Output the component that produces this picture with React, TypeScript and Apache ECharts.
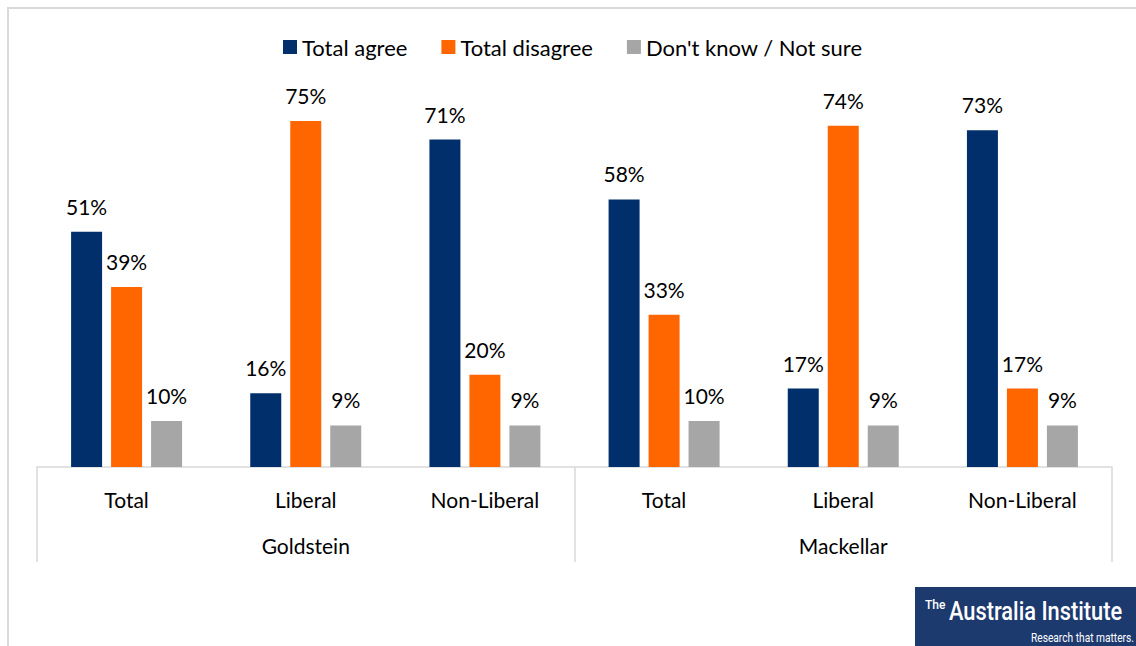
import React, { useEffect, useRef } from "react";
import * as echarts from "echarts";

const categories = ["Total", "Liberal", "Non-Liberal", "Total", "Liberal", "Non-Liberal"];
const groups = ["Goldstein", "Mackellar"];
const seriesNames = ["Total agree", "Total disagree", "Don't know / Not sure"];
const totalAgree = [51, 16, 71, 58, 17, 73];
const totalDisagree = [39, 75, 20, 33, 74, 17];
const dontKnow = [10, 9, 9, 10, 9, 9];
const colors = ["#002F6C", "#FF6600", "#A6A6A6"];

const FONT = "Lato, 'Noto Sans', sans-serif";

export default function App() {
  const ref = useRef<HTMLDivElement>(null);
  useEffect(() => {
    document.body.style.margin = "0";
    const chart = echarts.init(ref.current!, null, { renderer: "svg" });
    const values = [totalAgree, totalDisagree, dontKnow];
    chart.setOption({
      animation: false,
      backgroundColor: "#ffffff",
      textStyle: { fontFamily: FONT },
      legend: {
        top: 31,
        left: 278,
        itemWidth: 14,
        itemHeight: 14,
        itemGap: 34,
        icon: "rect",
        textStyle: { fontSize: 22, color: "#000", fontFamily: FONT },
        data: seriesNames,
      },
      grid: { left: 37, right: 24, top: 98, bottom: 179, containLabel: false },
      xAxis: [
        {
          type: "category",
          data: categories,
          axisLine: { show: true, lineStyle: { color: "#d9d9d9", width: 1.5 } },
          axisTick: { show: false },
          axisLabel: { interval: 0, margin: 22, fontSize: 21, color: "#000", fontFamily: FONT },
        },
        {
          type: "category",
          data: groups,
          position: "bottom",
          axisLine: { show: false },
          axisTick: { show: true, length: 95, interval: 0, lineStyle: { color: "#d9d9d9", width: 1.5 } },
          axisLabel: { interval: 0, margin: 68, fontSize: 21, color: "#000", fontFamily: FONT },
        },
      ],
      yAxis: { type: "value", min: 0, max: 80, show: false, splitLine: { show: false } },
      series: seriesNames.map((name, i) => ({
        name,
        type: "bar",
        xAxisIndex: 0,
        data: values[i],
        barWidth: 31,
        barGap: "29%",
        itemStyle: { color: colors[i] },
        label: {
          show: true,
          position: "top",
          distance: 15,
          formatter: "{c}%",
          fontSize: 21,
          color: "#000",
          fontFamily: FONT,
        },
      })),
      graphic: [
        {
          type: "rect",
          shape: { x: 8, y: 8, width: 1200, height: 700 },
          style: { fill: "none", stroke: "#d9d9d9", lineWidth: 2 },
          silent: true,
        },
        {
          type: "rect",
          shape: { x: 915, y: 587, width: 221, height: 59 },
          style: { fill: "#1d3a6f" },
        },
        {
          type: "text",
          x: 925,
          y: 605,
          style: { text: "The", fill: "#fff", font: "500 12px Roboto", textVerticalAlign: "middle" },
        },
        {
          type: "text",
          x: 949,
          y: 611,
          scaleX: 0.84,
          style: { text: "Australia Institute", fill: "#fff", font: "500 26px Roboto", textVerticalAlign: "middle", textAlign: "left" },
        },
        {
          type: "text",
          x: 1134,
          y: 638,
          scaleX: 0.85,
          style: { text: "Research that matters.", fill: "#fff", font: "12px Roboto", textVerticalAlign: "middle", textAlign: "right" },
        },
      ],
    });
    return () => chart.dispose();
  }, []);
  return <div ref={ref} style={{ width: 1136, height: 646 }} />;
}
